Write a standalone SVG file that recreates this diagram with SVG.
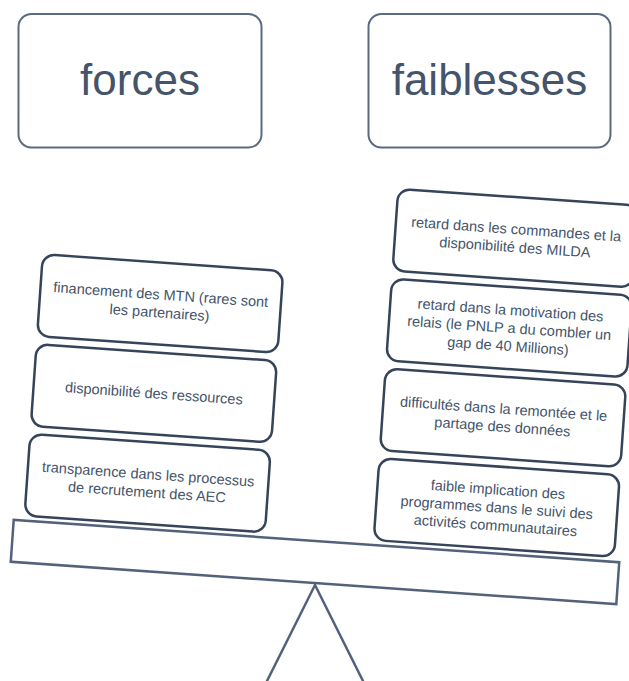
<svg xmlns="http://www.w3.org/2000/svg" width="629" height="681" viewBox="0 0 629 681">
<style>
.hdr{fill:#ffffff;stroke:#5b6a80;stroke-width:2}
.hdrt{font-family:"Liberation Sans",Arial,sans-serif;font-size:44px;fill:#44546a;text-anchor:middle}
.box{fill:#ffffff;stroke:#36445a;stroke-width:2.5}
.bt{font-family:"Liberation Sans",Arial,sans-serif;font-size:14.5px;fill:#44546a;text-anchor:middle}
.scale{fill:#ffffff;stroke:#53627a;stroke-width:2.5}
</style>
<rect width="629" height="681" fill="#ffffff"/>
<g id="forces">
<rect class="hdr" x="18.5" y="14" width="243" height="133.5" rx="13"/>
<text class="hdrt" x="140" y="95">forces</text>
</g>
<g id="faiblesses">
<rect class="hdr" x="368.5" y="14" width="242" height="133.5" rx="13"/>
<text class="hdrt" x="489.5" y="95">faiblesses</text>
</g>
<g id="connectors">
<polygon class="scale" points="315,585 255,705 375,705"/>
<rect class="scale" x="11.5" y="541" width="607" height="42" transform="rotate(4 315 562)"/>
</g>
<g transform="rotate(4 315 562)">
<g id="force1">
<rect class="box" x="22" y="274" width="241" height="82" rx="12"/>
<text class="bt" x="142.5" y="311">financement des MTN (rares sont</text>
<text class="bt" x="142.5" y="329">les partenaires)</text>
</g>
<g id="force2">
<rect class="box" x="22" y="364" width="241" height="82" rx="12"/>
<text class="bt" x="142.5" y="410">disponibilité des ressources</text>
</g>
<g id="force3">
<rect class="box" x="22" y="454" width="241" height="82" rx="12"/>
<text class="bt" x="142.5" y="491">transparence dans les processus</text>
<text class="bt" x="142.5" y="509">de recrutement des AEC</text>
</g>
<g id="faiblesse1">
<rect class="box" x="372" y="184" width="241" height="82" rx="12"/>
<text class="bt" x="492.5" y="221">retard dans les commandes et la</text>
<text class="bt" x="492.5" y="239">disponibilité des MILDA</text>
</g>
<g id="faiblesse2">
<rect class="box" x="372" y="274" width="241" height="82" rx="12"/>
<text class="bt" x="492.5" y="302">retard dans la motivation des</text>
<text class="bt" x="492.5" y="320">relais (le PNLP a du combler un</text>
<text class="bt" x="492.5" y="338">gap de 40 Millions)</text>
</g>
<g id="faiblesse3">
<rect class="box" x="372" y="364" width="241" height="82" rx="12"/>
<text class="bt" x="492.5" y="401">difficultés dans la remontée et le</text>
<text class="bt" x="492.5" y="419">partage des données</text>
</g>
<g id="faiblesse4">
<rect class="box" x="372" y="454" width="241" height="82" rx="12"/>
<text class="bt" x="492.5" y="482">faible implication des</text>
<text class="bt" x="492.5" y="500">programmes dans le suivi des</text>
<text class="bt" x="492.5" y="518">activités communautaires</text>
</g>
</g>
</svg>
